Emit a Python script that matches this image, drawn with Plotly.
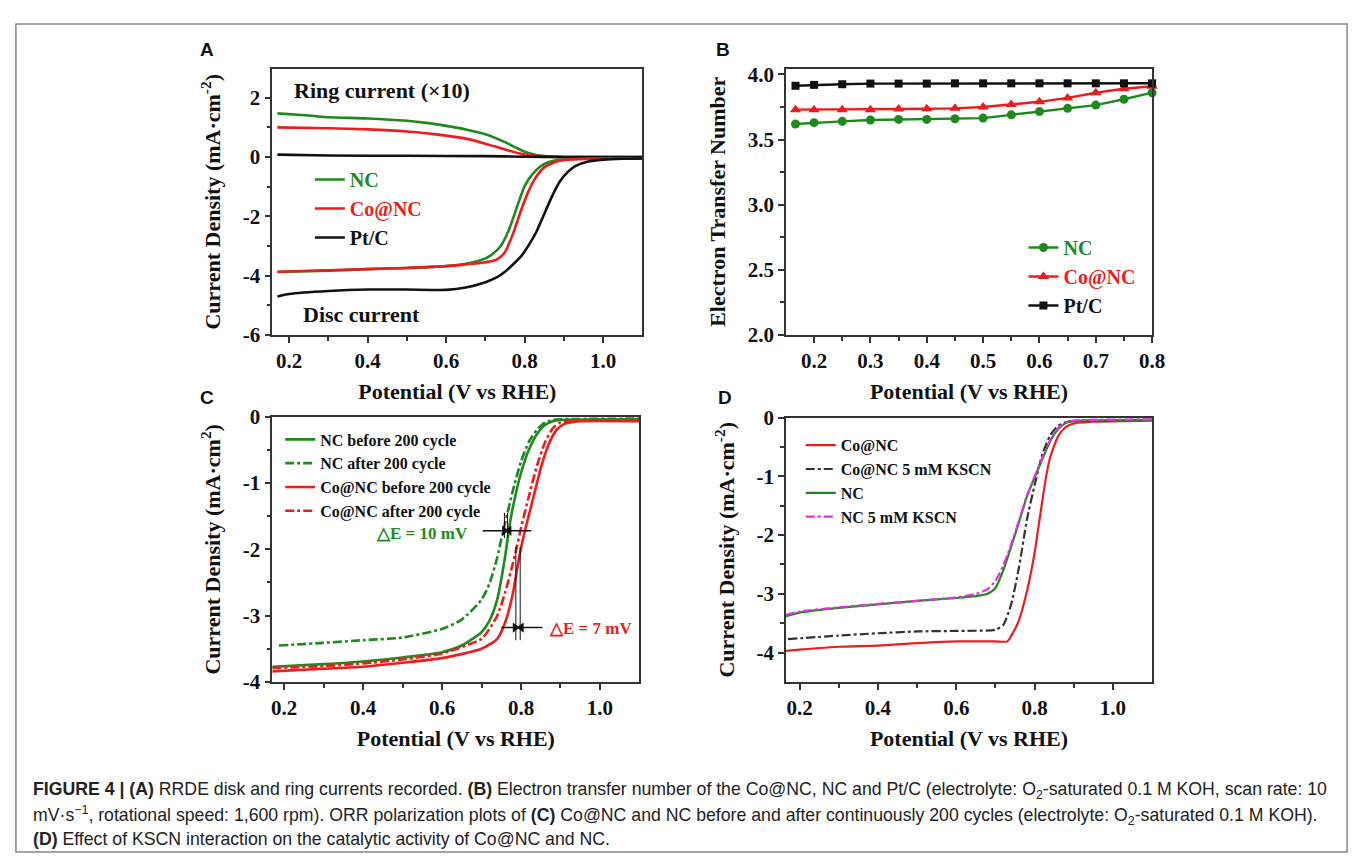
import plotly.graph_objects as go

W, H = 1360, 860

# ---------------- data ----------------
# Panel A  (RRDE disc and ring currents)
a_nc_disc_x = [0.17, 0.3, 0.4, 0.5, 0.6, 0.65, 0.7, 0.72, 0.74, 0.76, 0.78, 0.80, 0.82, 0.84, 0.86, 0.88, 0.9, 0.95, 1.1]
a_nc_disc_y = [-3.88, -3.83, -3.78, -3.74, -3.68, -3.6, -3.42, -3.25, -2.98, -2.45, -1.7, -0.98, -0.58, -0.32, -0.18, -0.11, -0.08, -0.06, -0.05]
a_co_disc_x = [0.17, 0.3, 0.4, 0.5, 0.6, 0.65, 0.7, 0.73, 0.75, 0.77, 0.79, 0.81, 0.83, 0.85, 0.87, 0.89, 0.92, 1.1]
a_co_disc_y = [-3.87, -3.82, -3.78, -3.74, -3.68, -3.62, -3.55, -3.45, -3.2, -2.6, -1.83, -1.15, -0.66, -0.35, -0.21, -0.13, -0.08, -0.05]
a_pt_disc_x = [0.17, 0.2, 0.3, 0.4, 0.5, 0.6, 0.65, 0.7, 0.73, 0.75, 0.79, 0.81, 0.83, 0.85, 0.87, 0.89, 0.91, 0.93, 0.96, 1.0, 1.05, 1.1]
a_pt_disc_y = [-4.7, -4.62, -4.52, -4.47, -4.47, -4.48, -4.4, -4.22, -4.05, -3.87, -3.36, -2.98, -2.52, -1.92, -1.32, -0.82, -0.5, -0.3, -0.16, -0.09, -0.06, -0.05]
a_nc_ring_x = [0.17, 0.25, 0.3, 0.4, 0.5, 0.55, 0.6, 0.65, 0.7, 0.75, 0.78, 0.8, 0.83, 0.86, 0.9, 1.1]
a_nc_ring_y = [1.47, 1.4, 1.34, 1.3, 1.22, 1.15, 1.05, 0.93, 0.77, 0.5, 0.3, 0.18, 0.07, 0.02, 0.0, -0.01]
a_co_ring_x = [0.17, 0.3, 0.4, 0.5, 0.55, 0.6, 0.65, 0.7, 0.75, 0.8, 0.85, 0.9, 1.1]
a_co_ring_y = [1.0, 0.97, 0.93, 0.86, 0.8, 0.72, 0.62, 0.45, 0.25, 0.08, 0.02, 0.0, 0.0]
a_pt_ring_x = [0.17, 0.3, 0.5, 0.7, 0.8, 0.9, 1.1]
a_pt_ring_y = [0.08, 0.05, 0.04, 0.03, 0.01, 0.0, 0.0]

# Panel B  (electron transfer number)
b_x = [0.167, 0.2, 0.25, 0.3, 0.35, 0.4, 0.45, 0.5, 0.55, 0.6, 0.65, 0.7, 0.75, 0.8]
b_nc = [3.62, 3.63, 3.64, 3.65, 3.655, 3.655, 3.66, 3.665, 3.69, 3.715, 3.74, 3.765, 3.81, 3.86]
b_co = [3.73, 3.73, 3.73, 3.73, 3.735, 3.737, 3.74, 3.75, 3.77, 3.79, 3.82, 3.86, 3.89, 3.91]
b_pt = [3.913, 3.92, 3.925, 3.93, 3.93, 3.93, 3.932, 3.932, 3.932, 3.932, 3.932, 3.932, 3.932, 3.932]

# Panel C  (before / after 200 cycles)
c_ncb_x = [0.17, 0.3, 0.4, 0.5, 0.6, 0.65, 0.7, 0.72, 0.74, 0.76, 0.77, 0.78, 0.80, 0.82, 0.84, 0.86, 0.88, 0.9, 1.1]
c_ncb_y = [-3.77, -3.73, -3.69, -3.63, -3.55, -3.45, -3.25, -3.08, -2.75, -2.1, -1.68, -1.35, -0.85, -0.5, -0.27, -0.13, -0.07, -0.05, -0.04]
c_nca_x = [0.187, 0.3, 0.4, 0.5, 0.6, 0.65, 0.7, 0.72, 0.74, 0.75, 0.76, 0.78, 0.80, 0.82, 0.84, 0.86, 0.88, 0.9, 1.1]
c_nca_y = [-3.45, -3.41, -3.37, -3.33, -3.2, -3.06, -2.76, -2.52, -2.12, -1.85, -1.6, -1.1, -0.68, -0.38, -0.2, -0.09, -0.05, -0.04, -0.03]
c_cob_x = [0.17, 0.3, 0.4, 0.5, 0.6, 0.7, 0.74, 0.76, 0.78, 0.79, 0.80, 0.81, 0.83, 0.85, 0.87, 0.89, 0.91, 0.95, 1.1]
c_cob_y = [-3.84, -3.8, -3.77, -3.71, -3.64, -3.5, -3.35, -3.1, -2.65, -2.3, -1.98, -1.72, -1.25, -0.78, -0.42, -0.2, -0.11, -0.07, -0.07]
c_coa_x = [0.17, 0.3, 0.4, 0.5, 0.6, 0.7, 0.72, 0.74, 0.76, 0.78, 0.79, 0.80, 0.82, 0.84, 0.86, 0.88, 0.9, 0.95, 1.1]
c_coa_y = [-3.79, -3.76, -3.72, -3.66, -3.57, -3.35, -3.2, -3.0, -2.65, -2.2, -1.95, -1.68, -1.2, -0.75, -0.4, -0.18, -0.09, -0.06, -0.06]

# Panel D  (KSCN poisoning)
d_co_x = [0.165, 0.2, 0.3, 0.4, 0.5, 0.6, 0.7, 0.73, 0.74, 0.76, 0.78, 0.80, 0.81, 0.82, 0.83, 0.84, 0.86, 0.88, 0.9, 0.95, 1.1]
d_co_y = [-3.97, -3.95, -3.9, -3.88, -3.84, -3.81, -3.81, -3.81, -3.72, -3.45, -2.97, -2.3, -1.85, -1.4, -0.98, -0.67, -0.32, -0.16, -0.1, -0.07, -0.05]
d_cok_x = [0.17, 0.3, 0.4, 0.5, 0.6, 0.7, 0.72, 0.74, 0.76, 0.78, 0.80, 0.82, 0.84, 0.86, 0.88, 0.9, 1.1]
d_cok_y = [-3.77, -3.71, -3.67, -3.64, -3.63, -3.61, -3.53, -3.18, -2.55, -1.75, -1.15, -0.62, -0.3, -0.14, -0.08, -0.06, -0.04]
d_nc_x = [0.165, 0.2, 0.3, 0.4, 0.5, 0.6, 0.65, 0.68, 0.70, 0.72, 0.74, 0.76, 0.78, 0.80, 0.82, 0.84, 0.86, 0.88, 0.9, 1.1]
d_nc_y = [-3.38, -3.32, -3.24, -3.18, -3.12, -3.07, -3.04, -3.0, -2.9, -2.6, -2.2, -1.78, -1.35, -1.02, -0.7, -0.4, -0.2, -0.09, -0.06, -0.04]
d_nck_x = [0.165, 0.2, 0.3, 0.4, 0.5, 0.6, 0.65, 0.68, 0.70, 0.72, 0.74, 0.76, 0.78, 0.80, 0.82, 0.84, 0.86, 0.88, 0.9, 1.1]
d_nck_y = [-3.36, -3.3, -3.23, -3.17, -3.12, -3.06, -3.0, -2.92, -2.78, -2.52, -2.16, -1.76, -1.34, -1.0, -0.68, -0.38, -0.18, -0.08, -0.05, -0.03]

# Delta-E markers in panel C (potential positions of the bracket lines)
c_de_nc_lines = [0.758, 0.766]
c_de_co_lines = [0.787, 0.798]

# tick labels
pot_ticks = [0.2, 0.4, 0.6, 0.8, 1.0]
pot_labels = ["0.2", "0.4", "0.6", "0.8", "1.0"]
pot_minor = [0.3, 0.5, 0.7, 0.9]
a_yticks = [2, 0, -2, -4, -6]
a_ylabels = ["2", "0", "-2", "-4", "-6"]
a_yminor = [1, -1, -3, -5]
b_xticks = [0.2, 0.3, 0.4, 0.5, 0.6, 0.7, 0.8]
b_xlabels = ["0.2", "0.3", "0.4", "0.5", "0.6", "0.7", "0.8"]
b_xminor = [0.25, 0.35, 0.45, 0.55, 0.65, 0.75]
b_yticks = [2.0, 2.5, 3.0, 3.5, 4.0]
b_ylabels = ["2.0", "2.5", "3.0", "3.5", "4.0"]
b_yminor = [2.25, 2.75, 3.25, 3.75]
cd_yticks = [0, -1, -2, -3, -4]
cd_ylabels = ["0", "-1", "-2", "-3", "-4"]
cd_yminor = [-0.5, -1.5, -2.5, -3.5]

# ---------------- styling ----------------
GREEN = "#1e8a1e"
RED = "#ee1c1c"
BLACK = "#111111"
MAGENTA = "#e62ee6"
GRAY = "#333333"
SERIF = "Liberation Serif"
SANS = "Liberation Sans"


def px(x):
    return x / W


def py(y):
    return 1 - y / H


fig = go.Figure()


def line(x, y, color, name, xa, ya, dash="solid", width=2.6, legend=None, show=True):
    fig.add_trace(go.Scatter(
        x=x, y=y, mode="lines", name=name, xaxis=xa, yaxis=ya,
        line=dict(color=color, width=width, dash=dash, shape="spline", smoothing=0.6),
        showlegend=show, legend=legend, hoverinfo="skip"))


def colored(txt, c):
    return f'<span style="color:{c}">{txt}</span>'


# Panel A
line(a_nc_ring_x, a_nc_ring_y, GREEN, "NC ring", "x", "y", show=False)
line(a_co_ring_x, a_co_ring_y, RED, "Co@NC ring", "x", "y", show=False)
line(a_pt_ring_x, a_pt_ring_y, BLACK, "Pt/C ring", "x", "y", show=False)
line(a_nc_disc_x, a_nc_disc_y, GREEN, colored("NC", GREEN), "x", "y", legend="legend")
line(a_co_disc_x, a_co_disc_y, RED, colored("Co@NC", RED), "x", "y", legend="legend")
line(a_pt_disc_x, a_pt_disc_y, BLACK, colored("Pt/C", BLACK), "x", "y", legend="legend")

# Panel B
for yv, col, sym, nm, sz in [(b_nc, GREEN, "circle", "NC", 9),
                              (b_co, RED, "triangle-up", "Co@NC", 10),
                              (b_pt, BLACK, "square", "Pt/C", 8)]:
    fig.add_trace(go.Scatter(
        x=b_x, y=yv, mode="lines+markers", name=colored(nm, col), xaxis="x2", yaxis="y2",
        line=dict(color=col, width=2.4), marker=dict(color=col, symbol=sym, size=sz),
        legend="legend2", cliponaxis=False, hoverinfo="skip"))

# Panel C
line(c_ncb_x, c_ncb_y, GREEN, "NC before 200 cycle", "x3", "y3", legend="legend3")
line(c_nca_x, c_nca_y, GREEN, "NC after 200 cycle", "x3", "y3", dash="dashdot", legend="legend3")
line(c_cob_x, c_cob_y, RED, "Co@NC before 200 cycle", "x3", "y3", legend="legend3")
line(c_coa_x, c_coa_y, RED, "Co@NC after 200 cycle", "x3", "y3", dash="dashdot", legend="legend3")

# Panel D
line(d_co_x, d_co_y, RED, "Co@NC", "x4", "y4", width=2.2, legend="legend4")
line(d_cok_x, d_cok_y, GRAY, "Co@NC 5 mM KSCN", "x4", "y4", dash="dashdot", width=2.2, legend="legend4")
line(d_nc_x, d_nc_y, GREEN, "NC", "x4", "y4", width=2.2, legend="legend4")
line(d_nck_x, d_nck_y, MAGENTA, "NC 5 mM KSCN", "x4", "y4", dash="dashdot", width=2.2, legend="legend4")

# Delta-E arrows in panel C (shaft lines + triangular heads)
arrow_specs = [  # (tail_x, head_x, y, head symbol)
    (0.703, c_de_nc_lines[0], -1.72, "triangle-right"),
    (0.826, c_de_nc_lines[1] + 0.004, -1.72, "triangle-left"),
    (0.75, c_de_co_lines[0] - 0.002, -3.18, "triangle-right"),
    (0.854, c_de_co_lines[1] + 0.003, -3.18, "triangle-left"),
]
for tx, hx, yv, sym in arrow_specs:
    fig.add_trace(go.Scatter(x=[tx, hx], y=[yv, yv], mode="lines", xaxis="x3", yaxis="y3",
                             line=dict(color=BLACK, width=1.5), showlegend=False, hoverinfo="skip"))
    fig.add_trace(go.Scatter(x=[hx], y=[yv], mode="markers", xaxis="x3", yaxis="y3",
                             marker=dict(symbol=sym, size=9, color=BLACK), showlegend=False,
                             hoverinfo="skip"))

tickfont = dict(family=SERIF, size=21, color=BLACK, weight="bold")
titlefont = dict(family=SERIF, size=22, color=BLACK, weight="bold")


def axis(dom, rng, tv, tt, minor, title, anchor, standoff):
    return dict(domain=dom, range=rng, anchor=anchor, tickmode="array", tickvals=tv, ticktext=tt,
                showline=True, linecolor="#333", linewidth=1.5, mirror=True,
                ticks="outside", ticklen=6, tickwidth=1.5, tickcolor="#333",
                minor=dict(tickvals=minor, ticks="outside", ticklen=4, tickwidth=1.5, tickcolor="#333"),
                showgrid=False, zeroline=False, tickfont=tickfont,
                title=dict(text=title, font=titlefont, standoff=standoff))


xt = "Potential (V vs RHE)"
cd_title = "Current Density (mA·cm<sup>-2</sup>)"
leg_big = dict(family=SERIF, size=20, color=BLACK, weight="bold")
leg_small = dict(family=SERIF, size=16, color=BLACK, weight="bold")
fig.update_layout(
    width=W, height=H, margin=dict(l=0, r=0, t=0, b=0),
    paper_bgcolor="white", plot_bgcolor="white",
    xaxis=axis([px(266), px(640)], [0.157, 1.1], pot_ticks, pot_labels, pot_minor, xt, "y", 12),
    yaxis=axis([py(324), py(50)], [-6, 2.98], a_yticks, a_ylabels, a_yminor, cd_title, "x", 16),
    xaxis2=axis([px(785), px(1155)], [0.15, 0.8], b_xticks, b_xlabels, b_xminor, xt, "y2", 12),
    yaxis2=axis([py(324), py(50)], [2.0, 4.045], b_yticks, b_ylabels, b_yminor, "Electron Transfer Number", "x2", 16),
    xaxis3=axis([px(266), px(637)], [0.17, 1.1], pot_ticks, pot_labels, pot_minor, xt, "y3", 12),
    yaxis3=axis([py(681), py(408)], [-4, 0], cd_yticks, cd_ylabels, cd_yminor, "Current Density (mA·cm<sup>2</sup>)", "x3", 16),
    xaxis4=axis([px(785), px(1155)], [0.165, 1.1], pot_ticks, pot_labels, pot_minor, xt, "y4", 12),
    yaxis4=axis([py(681), py(409)], [-4.5, 0], cd_yticks, cd_ylabels, cd_yminor, cd_title, "x4", 16),
    legend=dict(x=px(304), y=py(144), xanchor="left", yanchor="top", bgcolor="rgba(0,0,0,0)", font=leg_big),
    legend2=dict(x=px(1025), y=py(214), xanchor="left", yanchor="top", bgcolor="rgba(0,0,0,0)", font=leg_big),
    legend3=dict(x=px(274), y=py(414), xanchor="left", yanchor="top", bgcolor="rgba(0,0,0,0)", font=leg_small),
    legend4=dict(x=px(800), y=py(420), xanchor="left", yanchor="top", bgcolor="rgba(0,0,0,0)", font=leg_small),
)

ann = []
# panel letters
for lt, xx, yy in [("A", 200, 30), ("B", 721, 30), ("C", 200, 388), ("D", 723, 388)]:
    ann.append(dict(text=lt, x=px(xx), y=py(yy), xref="paper", yref="paper", showarrow=False,
                    xanchor="center", yanchor="middle", font=dict(family=SANS, size=19, color=BLACK, weight="bold")))
# panel A labels
ann.append(dict(text="Ring current (×10)", x=0.437, y=2.25, xref="x", yref="y", showarrow=False,
                font=dict(family=SERIF, size=22, color=BLACK, weight="bold")))
ann.append(dict(text="Disc current", x=0.384, y=-5.32, xref="x", yref="y", showarrow=False,
                font=dict(family=SERIF, size=22, color=BLACK, weight="bold")))
# panel C delta E labels
ann.append(dict(text="△E = 10 mV", x=0.549, y=-1.76, xref="x3", yref="y3", showarrow=False,
                font=dict(family=SERIF, size=17, color=GREEN, weight="bold")))
ann.append(dict(text="△E = 7 mV", x=0.977, y=-3.2, xref="x3", yref="y3", showarrow=False,
                font=dict(family=SERIF, size=17, color=RED, weight="bold")))

# caption
cap_font = dict(family=SANS, size=17.7, color="#222")
cap_lines = [
    "<b>FIGURE 4 | (A)</b> RRDE disk and ring currents recorded. <b>(B)</b> Electron transfer number of the Co@NC, NC and Pt/C (electrolyte: O<sub>2</sub>-saturated 0.1 M KOH, scan rate: 10",
    "mV·s<sup>−1</sup>, rotational speed: 1,600 rpm). ORR polarization plots of <b>(C)</b> Co@NC and NC before and after continuously 200 cycles (electrolyte: O<sub>2</sub>-saturated 0.1 M KOH).",
    "<b>(D)</b> Effect of KSCN interaction on the catalytic activity of Co@NC and NC.",
]
for i, t in enumerate(cap_lines):
    ann.append(dict(text=t, x=px(22), y=py(793 + 25 * i), xref="paper", yref="paper", showarrow=False,
                    xanchor="left", yanchor="middle", align="left", font=cap_font))

fig.update_layout(annotations=ann)

shapes = []
# bracket lines in C
for xv in c_de_nc_lines:
    shapes.append(dict(type="line", x0=xv, x1=xv, y0=-1.45, y1=-1.83, xref="x3", yref="y3",
                       line=dict(color=BLACK, width=1)))
for xv in c_de_co_lines:
    shapes.append(dict(type="line", x0=xv, x1=xv, y0=-1.96, y1=-3.37, xref="x3", yref="y3",
                       line=dict(color=BLACK, width=1)))
# outer frame
shapes.append(dict(type="rect", x0=px(7), x1=px(1352), y0=py(856), y1=py(4), xref="paper", yref="paper",
                   line=dict(color="#888", width=1.5)))
fig.update_layout(shapes=shapes)

fig.write_html("out.html")
